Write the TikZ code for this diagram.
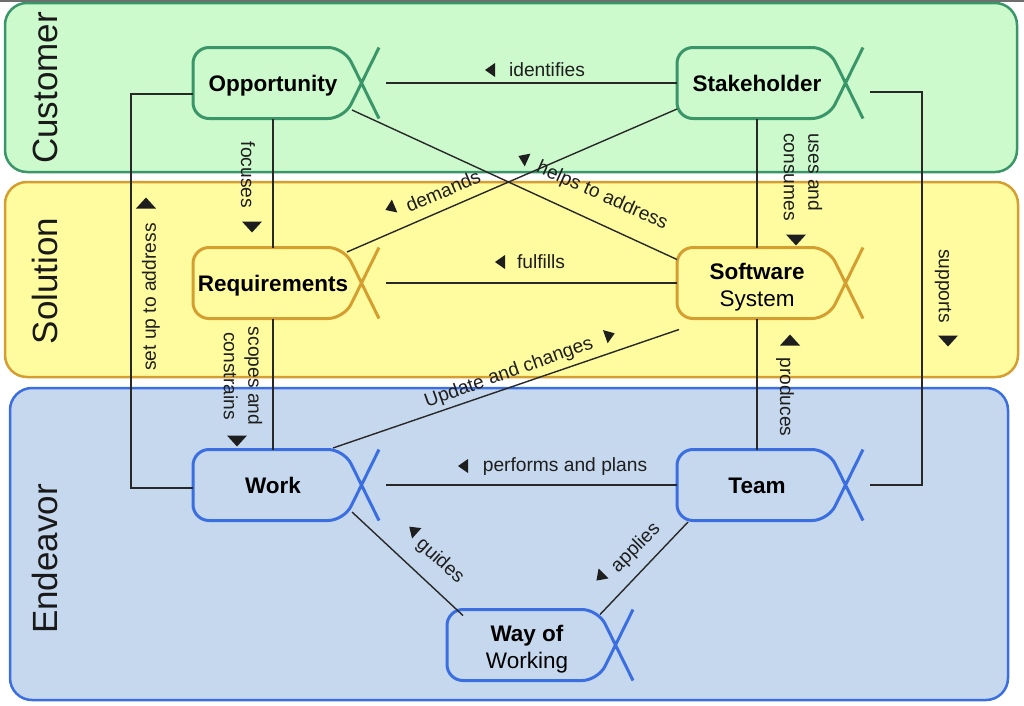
\documentclass[tikz,border=0pt]{standalone}
\usepackage{fontspec}
\setmainfont{Liberation Sans}
\definecolor{custfill}{RGB}{204,250,204}
\definecolor{custline}{RGB}{58,150,105}
\definecolor{solfill}{RGB}{255,252,160}
\definecolor{solline}{RGB}{212,158,48}
\definecolor{endfill}{RGB}{198,216,238}
\definecolor{endline}{RGB}{58,110,225}
\definecolor{linegray}{RGB}{40,40,40}
\definecolor{labelgray}{RGB}{30,30,30}
\definecolor{topgray}{RGB}{110,110,110}
\newcommand\concept[6][]{%
  \node[cname,#1] (#2) at (#3,#4) {#6};
  \draw[conceptline,draw=#5] (#3+106,#4+35.5) -- (#3+71,#4-35.5) -- (#3-80,#4-35.5)
     -- (#3-80,#4+35.5) -- (#3+71,#4+35.5) -- (#3+106,#4-35.5);
  \coordinate (#2-n) at (#3,#4-35.5);
  \coordinate (#2-s) at (#3,#4+35.5);
  \coordinate (#2-w) at (#3-80,#4);
  \coordinate (#2-x) at (#3+113,#4);
}
\begin{document}
\begin{tikzpicture}[x=1pt,y=-1pt,
  conn/.style={draw=linegray,line width=1.4pt},
  lbl/.style={font=\fontsize{19.2}{24.5}\selectfont,text=labelgray,inner sep=0pt},
  cname/.style={font=\fontsize{22.5}{27}\selectfont,inner sep=0pt,align=center,text=black},
  oneline/.style={text height=16pt,text depth=0pt},
  twoline/.style={yshift=-4.5pt},
  band/.style={rounded corners=22pt,line width=2.5pt},
  bandlbl/.style={font=\fontsize{35}{40}\selectfont,rotate=90,inner sep=0pt,text=black!90},
  conceptline/.style={line width=3pt,rounded corners=16pt},
  trileft/.pic={\fill[labelgray] (-5,0) -- (5,-7) -- (5,7) -- cycle;},
  tridown/.pic={\fill[labelgray] (0,5.5) -- (-10,-5.5) -- (10,-5.5) -- cycle;}]
\useasboundingbox (0,0) rectangle (1024,705);
\draw[topgray,line width=1.5pt] (0,0.75) -- (1024,0.75);
% bands
\draw[band,fill=custfill,draw=custline] (5,3) rectangle (1017,172);
\draw[band,fill=solfill,draw=solline] (5,182) rectangle (1018,377);
\draw[band,fill=endfill,draw=endline] (10,388) rectangle (1008,700);
\node[bandlbl] (bcust) at (45,88) {Customer};
\node[bandlbl] (bsol) at (45,281) {Solution};
\node[bandlbl] (bend) at (45,559) {Endeavor};
% concepts
\concept[oneline]{opp}{273}{83}{custline}{\textbf{Opportunity}}
\concept[oneline]{stake}{757}{83}{custline}{\textbf{Stakeholder}}
\concept[oneline]{req}{273}{283}{solline}{\textbf{Requirements}}
\concept[twoline]{soft}{757}{283}{solline}{\textbf{Software}\\System}
\concept[oneline]{work}{273}{485}{endline}{\textbf{Work}}
\concept[oneline]{team}{757}{485}{endline}{\textbf{Team}}
\concept[twoline]{wow}{527}{645}{endline}{\textbf{Way of}\\Working}
% connectors
\draw[conn] (opp-x) -- (stake-w);
\draw[conn] (req-x) -- (soft-w);
\draw[conn] (work-x) -- (team-w);
\draw[conn] (opp-s) -- (req-n);
\draw[conn] (req-s) -- (work-n);
\draw[conn] (stake-s) -- (soft-n);
\draw[conn] (soft-s) -- (team-n);
\draw[conn] ([yshift=-3pt]work-w) -- ++(-62,0) |- ([yshift=-11pt]opp-w);
\draw[conn] ([yshift=-9pt]stake-x) -- ++(52,0) |- (team-x);
\draw[conn] ([shift={(79,27)}]opp.center) -- ([shift={(-80,-28)}]soft.center);
\draw[conn] ([shift={(74,-31)}]req.center) -- ([shift={(-80,26)}]stake.center);
\draw[conn] ([shift={(60,-37)}]work.center) -- ([shift={(-78,42)}]soft.center);
\draw[conn] ([shift={(79,27)}]work.center) -- ([shift={(-64,-34)}]wow.center);
\draw[conn] ([shift={(-69,37)}]team.center) -- ([shift={(73,-35)}]wow.center);
% labels
\node[lbl] (lident) at (547,70) {identifies};
\pic at (490,70) {trileft};
\node[lbl,rotate=-90] (lfocus) at (248,175) {focuses};
\pic at (252,227) {tridown};
\node[lbl,rotate=90] (lsetup) at (151,297) {set up to address};
\pic[rotate=180] at (146,203) {tridown};
\node[lbl,rotate=-90,align=center] (lscopes) at (243,376) {scopes and\\constrains};
\pic at (237,441) {tridown};
\node[lbl,rotate=-24] (lhelps) at (602,196) {helps to address};
\pic[rotate=-24] at (523,158) {trileft};
\node[lbl,rotate=23] (ldem) at (443,191) {demands};
\pic[rotate=23] at (390,208) {trileft};
\node[lbl] (lful) at (541,262) {fulfills};
\pic at (500,262) {trileft};
\node[lbl,rotate=-90,align=left] (luses) at (803,177) {uses and\\consumes};
\pic at (796,240) {tridown};
\node[lbl,rotate=-90] (lprod) at (785,397) {produces};
\pic[rotate=180] at (790,340) {tridown};
\node[lbl,rotate=-90] (lsup) at (943,286) {supports};
\pic at (948,341) {tridown};
\node[lbl,rotate=19.6] (lupd) at (509,373) {Update and changes};
\pic[rotate=199.6] at (610,335) {trileft};
\node[lbl] (lperf) at (565,467) {performs and plans};
\pic at (463,466) {trileft};
\node[lbl,rotate=-41.7] (lguid) at (440,561) {guides};
\pic[rotate=-41.7] at (413,530) {trileft};
\node[lbl,rotate=45] (lapp) at (636,548) {applies};
\pic[rotate=45] at (600,577) {trileft};
\end{tikzpicture}
\end{document}
